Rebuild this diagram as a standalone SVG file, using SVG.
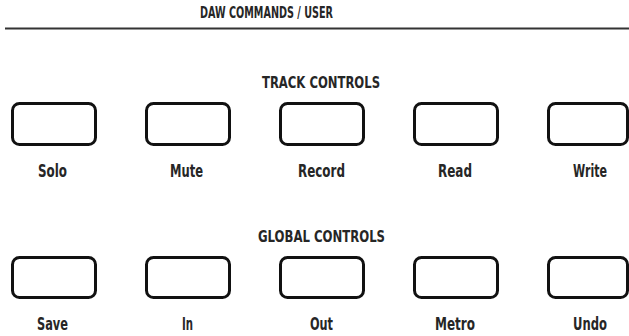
<svg xmlns="http://www.w3.org/2000/svg" width="629" height="336" viewBox="0 0 629 336">
<style>
  text { font-family: "DejaVu Sans Condensed", "Liberation Sans", sans-serif; fill: #262626; text-anchor: middle; font-weight: bold; font-size: 16px; }
  .lbl { font-size: 17px; }
  .title { font-size: 16.5px; }
  .btn { fill: #fff; stroke: #111; stroke-width: 3; }
</style>
<rect width="629" height="336" fill="#fff"/>
<g id="header">
  <text class="title" x="266.5" y="17.5" textLength="133" lengthAdjust="spacingAndGlyphs">DAW COMMANDS / USER</text>
  <line x1="5" y1="28.5" x2="629" y2="28.5" stroke="#333" stroke-width="2"/>
</g>
<g id="connectors"></g>
<g id="track-controls">
  <text x="321" y="88" textLength="118" lengthAdjust="spacingAndGlyphs">TRACK CONTROLS</text>
  <g id="solo"><rect class="btn" x="12.5" y="103.5" width="83" height="41" rx="7"/><text class="lbl" x="52.5" y="177" textLength="29" lengthAdjust="spacingAndGlyphs">Solo</text></g>
  <g id="mute"><rect class="btn" x="146.5" y="103.5" width="83" height="41" rx="7"/><text class="lbl" x="186.5" y="177" textLength="33" lengthAdjust="spacingAndGlyphs">Mute</text></g>
  <g id="record"><rect class="btn" x="280.5" y="103.5" width="83" height="41" rx="7"/><text class="lbl" x="321.5" y="177" textLength="47" lengthAdjust="spacingAndGlyphs">Record</text></g>
  <g id="read"><rect class="btn" x="414.5" y="103.5" width="83" height="41" rx="7"/><text class="lbl" x="455" y="177" textLength="34" lengthAdjust="spacingAndGlyphs">Read</text></g>
  <g id="write"><rect class="btn" x="548.5" y="103.5" width="79" height="41" rx="7"/><text class="lbl" x="590" y="177" textLength="34" lengthAdjust="spacingAndGlyphs">Write</text></g>
</g>
<g id="global-controls">
  <text x="321.5" y="241.5" textLength="127" lengthAdjust="spacingAndGlyphs">GLOBAL CONTROLS</text>
  <g id="save"><rect class="btn" x="12.5" y="257.5" width="83" height="40" rx="7"/><text class="lbl" x="52.5" y="330" textLength="31" lengthAdjust="spacingAndGlyphs">Save</text></g>
  <g id="in"><rect class="btn" x="146.5" y="257.5" width="83" height="40" rx="7"/><text class="lbl" x="187.5" y="330" textLength="11" lengthAdjust="spacingAndGlyphs">In</text></g>
  <g id="out"><rect class="btn" x="280.5" y="257.5" width="83" height="40" rx="7"/><text class="lbl" x="321.5" y="330" textLength="23" lengthAdjust="spacingAndGlyphs">Out</text></g>
  <g id="metro"><rect class="btn" x="414.5" y="257.5" width="83" height="40" rx="7"/><text class="lbl" x="455" y="330" textLength="40" lengthAdjust="spacingAndGlyphs">Metro</text></g>
  <g id="undo"><rect class="btn" x="548.5" y="257.5" width="79" height="40" rx="7"/><text class="lbl" x="590" y="330" textLength="34" lengthAdjust="spacingAndGlyphs">Undo</text></g>
</g>
</svg>
